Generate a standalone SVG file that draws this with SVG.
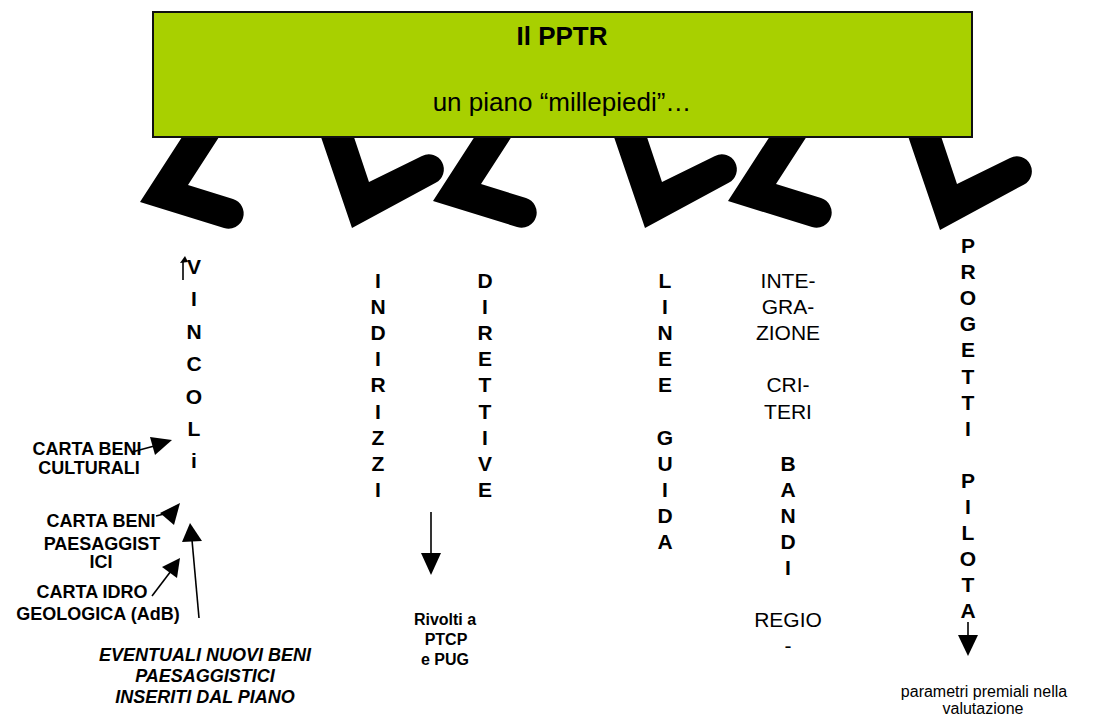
<svg xmlns="http://www.w3.org/2000/svg" width="1097" height="717" viewBox="0 0 1097 717">
<style>
text{font-family:"Liberation Sans",Arial,Helvetica,sans-serif;fill:#000}
.title{font-size:26px;font-weight:bold;text-anchor:middle}
.sub{font-size:26px;text-anchor:middle}
.col{font-size:21px;font-weight:bold;text-anchor:middle}
.reg{font-size:21px;font-weight:normal;text-anchor:middle}
.lab{font-size:18px;font-weight:bold;text-anchor:middle}
.ital{font-size:18px;font-weight:bold;font-style:italic;text-anchor:middle}
.small{font-size:16px;font-weight:bold;text-anchor:middle}
.note{font-size:16px;text-anchor:middle}
.leg{fill:#000}
.ln{stroke:#000;stroke-width:1.6;fill:none}
.hd{fill:#000}
.box{fill:#a8d000;stroke:#111;stroke-width:2}
</style>
<defs>
<path id="legL" d="M48.5,-75 L0,0 L84,26 A15,15 0 0 0 93,-3 L48,-17 L85.5,-75 Z"/>
<path id="legV" d="M-34.4,-101 L0,0 L83.7,-45.3 A15,15 0 0 0 70,-72 L17,-46 L-1.4,-101 Z"/>
</defs>
<rect width="1097" height="717" fill="#fff"/>
<g id="legs">
<use href="#legL" class="leg" x="140" y="202"/>
<use href="#legV" class="leg" x="352" y="228"/>
<use href="#legL" class="leg" x="433" y="201"/>
<use href="#legV" class="leg" x="645" y="228"/>
<use href="#legL" class="leg" x="728" y="201"/>
<use href="#legV" class="leg" x="940" y="230"/>
</g>
<g id="pptr">
<rect class="box" x="153" y="12" width="819" height="125"/>
<text class="title" x="562" y="45">Il PPTR</text>
<text class="sub" x="562" y="111">un piano “millepiedi”…</text>
</g>
<g id="vincoli">
<text class="col"><tspan x="194" y="274">V</tspan><tspan x="194" y="306">I</tspan><tspan x="194" y="339">N</tspan><tspan x="194" y="371">C</tspan><tspan x="194" y="404">O</tspan><tspan x="194" y="436">L</tspan><tspan x="194" y="468">i</tspan></text>
</g>
<g id="indirizzi">
<text class="col"><tspan x="378" y="288">I</tspan><tspan x="378" y="314">N</tspan><tspan x="378" y="340">D</tspan><tspan x="378" y="366">I</tspan><tspan x="378" y="392">R</tspan><tspan x="378" y="419">I</tspan><tspan x="378" y="445">Z</tspan><tspan x="378" y="471">Z</tspan><tspan x="378" y="497">I</tspan></text>
</g>
<g id="direttive">
<text class="col"><tspan x="485" y="288">D</tspan><tspan x="485" y="314">I</tspan><tspan x="485" y="340">R</tspan><tspan x="485" y="366">E</tspan><tspan x="485" y="392">T</tspan><tspan x="485" y="419">T</tspan><tspan x="485" y="445">I</tspan><tspan x="485" y="471">V</tspan><tspan x="485" y="497">E</tspan></text>
</g>
<g id="linee-guida">
<text class="col"><tspan x="665" y="288">L</tspan><tspan x="665" y="314">I</tspan><tspan x="665" y="340">N</tspan><tspan x="665" y="366">E</tspan><tspan x="665" y="392">E</tspan><tspan x="665" y="445">G</tspan><tspan x="665" y="471">U</tspan><tspan x="665" y="497">I</tspan><tspan x="665" y="523">D</tspan><tspan x="665" y="549">A</tspan></text>
</g>
<g id="integrazione">
<text class="reg"><tspan x="788" y="288">INTE-</tspan><tspan x="788" y="314">GRA-</tspan><tspan x="788" y="340">ZIONE</tspan><tspan x="788" y="392">CRI-</tspan><tspan x="788" y="419">TERI</tspan></text>
<text class="col"><tspan x="788" y="471">B</tspan><tspan x="788" y="497">A</tspan><tspan x="788" y="523">N</tspan><tspan x="788" y="549">D</tspan><tspan x="788" y="575">I</tspan></text>
<text class="reg"><tspan x="788" y="627">REGIO</tspan><tspan x="788" y="653">-</tspan></text>
</g>
<g id="progetti-pilota">
<text class="col"><tspan x="968" y="253">P</tspan><tspan x="968" y="279">R</tspan><tspan x="968" y="305">O</tspan><tspan x="968" y="331">G</tspan><tspan x="968" y="357">E</tspan><tspan x="968" y="384">T</tspan><tspan x="968" y="410">T</tspan><tspan x="968" y="436">I</tspan><tspan x="968" y="488">P</tspan><tspan x="968" y="514">I</tspan><tspan x="968" y="540">L</tspan><tspan x="968" y="566">O</tspan><tspan x="968" y="592">T</tspan><tspan x="968" y="618">A</tspan></text>
</g>
<g id="carta-beni-culturali">
<text class="lab"><tspan x="87" y="455">CARTA BENI</tspan><tspan x="89" y="474">CULTURALI</tspan></text>
</g>
<g id="carta-beni-paesaggistici">
<text class="lab"><tspan x="101" y="527">CARTA BENI</tspan><tspan x="102" y="550">PAESAGGIST</tspan><tspan x="101" y="568">ICI</tspan></text>
</g>
<g id="carta-idrogeologica">
<text class="lab"><tspan x="92" y="598">CARTA IDRO</tspan><tspan x="98" y="620">GEOLOGICA (AdB)</tspan></text>
</g>
<g id="nuovi-beni">
<text class="ital"><tspan x="205" y="661">EVENTUALI NUOVI BENI</tspan><tspan x="205" y="682">PAESAGGISTICI</tspan><tspan x="205" y="703">INSERITI DAL PIANO</tspan></text>
</g>
<g id="rivolti">
<text class="small"><tspan x="445" y="625">Rivolti a</tspan><tspan x="446" y="645">PTCP</tspan><tspan x="445" y="665">e PUG</tspan></text>
</g>
<g id="parametri">
<text class="note"><tspan x="984" y="697">parametri premiali nella</tspan><tspan x="983" y="714">valutazione</tspan></text>
</g>
<g id="connectors">
<line class="ln" x1="183" y1="280" x2="183" y2="261"/>
<polygon class="hd" points="185,256 180,263 188,262"/>
<line class="ln" x1="132" y1="452" x2="158" y2="445"/>
<polygon class="hd" points="172,440 150,437 155,455"/>
<line class="ln" x1="156" y1="516" x2="168" y2="513"/>
<polygon class="hd" points="180,503 160,513 174,525"/>
<line class="ln" x1="152" y1="596" x2="171" y2="571"/>
<polygon class="hd" points="180,558 162,567 177,578"/>
<line class="ln" x1="199" y1="618" x2="192" y2="540"/>
<polygon class="hd" points="190,523 182,542 202,541"/>
<line class="ln" x1="431" y1="512" x2="431" y2="555"/>
<polygon class="hd" points="431,575 421,553 441,553"/>
<line class="ln" x1="968" y1="622" x2="968" y2="637"/>
<polygon class="hd" points="968,656 958,635 978,635"/>
</g>
</svg>
